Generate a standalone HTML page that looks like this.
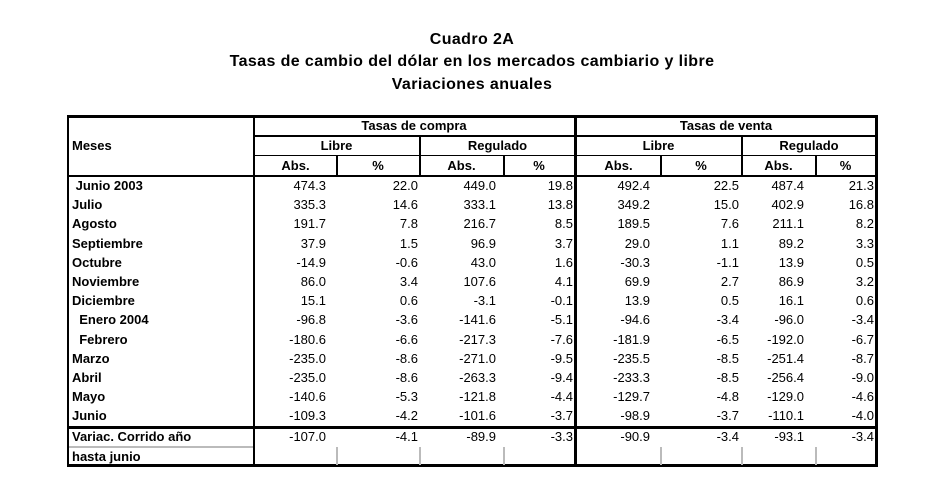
<html><head><style>
body{margin:0;background:#fff;width:944px;height:499px;overflow:hidden;font-family:"Liberation Sans",Arial,sans-serif;position:relative}
.t{position:absolute;left:0;width:944px;text-align:center;font-weight:bold;font-size:16px;letter-spacing:0.4px;color:#000}
.a{position:absolute;font-size:13px;white-space:nowrap;line-height:16px}
.b{font-weight:bold}
.h{position:absolute;background:#000}
.g{position:absolute;background:#bbb}
</style></head><body>
<div class="t" style="top:31px">Cuadro 2A</div>
<div class="t" style="top:53px">Tasas de cambio del dólar en los mercados cambiario y libre</div>
<div class="t" style="top:76px">Variaciones anuales</div>
<div id="tb"></div>
<script>
var o='';
function L(x,y,w,h,c){o+='<div class="'+(c||'h')+'" style="left:'+x+'px;top:'+y+'px;width:'+w+'px;height:'+h+'px"></div>';}
L(67,115,811,3);L(67,464,811,3);L(67,115,2,352);L(875,115,3,352);
L(253,115,2,62);L(574,115,3,352);
L(253,135,622,2);L(253,155,622,1);L(67,175,811,2);L(67,426,811,3);
[336,503,660,815].forEach(function(x){L(x,155,2,21);});
[419,741].forEach(function(x){L(x,135,2,41);});
L(253,177,2,290);
L(69,446,184,2,'g');
[336,419,503,660,741,815].forEach(function(x){L(x,447,2,18,'g');});
function T(x,y,s,cls,al,w){o+='<div class="a '+(cls||'')+'" style="left:'+x+'px;top:'+y+'px;'+(w?'width:'+w+'px;text-align:'+al+';':'')+'">'+s+'</div>';}
T(253,118,'Tasas de compra','b','center',322);T(576,118,'Tasas de venta','b','center',300);
T(253,138,'Libre','b','center',167);T(420,138,'Regulado','b','center',155);
T(576,138,'Libre','b','center',165);T(742,138,'Regulado','b','center',134);
T(72,138,'Meses','b');
var cx=[[255,336],[337,419],[420,503],[504,574],[577,660],[661,741],[742,815],[816,875]];
['Abs.','%','Abs.','%','Abs.','%','Abs.','%'].forEach(function(s,i){T(cx[i][0],158,s,'b','center',cx[i][1]-cx[i][0]);});
var rows=[[' Junio 2003',474.3,22.0,449.0,19.8,492.4,22.5,487.4,21.3],['Julio',335.3,14.6,333.1,13.8,349.2,15.0,402.9,16.8],['Agosto',191.7,7.8,216.7,8.5,189.5,7.6,211.1,8.2],['Septiembre',37.9,1.5,96.9,3.7,29.0,1.1,89.2,3.3],['Octubre',-14.9,-0.6,43.0,1.6,-30.3,-1.1,13.9,0.5],['Noviembre',86.0,3.4,107.6,4.1,69.9,2.7,86.9,3.2],['Diciembre',15.1,0.6,-3.1,-0.1,13.9,0.5,16.1,0.6],['  Enero 2004',-96.8,-3.6,-141.6,-5.1,-94.6,-3.4,-96.0,-3.4],['  Febrero',-180.6,-6.6,-217.3,-7.6,-181.9,-6.5,-192.0,-6.7],['Marzo',-235.0,-8.6,-271.0,-9.5,-235.5,-8.5,-251.4,-8.7],['Abril',-235.0,-8.6,-263.3,-9.4,-233.3,-8.5,-256.4,-9.0],['Mayo',-140.6,-5.3,-121.8,-4.4,-129.7,-4.8,-129.0,-4.6],['Junio',-109.3,-4.2,-101.6,-3.7,-98.9,-3.7,-110.1,-4.0],['Variac. Corrido año',-107.0,-4.1,-89.9,-3.3,-90.9,-3.4,-93.1,-3.4]];
var abs=[[256,326],[337,418],[420,496],[504,573],[577,650],[661,739],[742,804],[816,874]];
rows.forEach(function(r,i){var y=i<13?178+i*19.2:429;
T(72,y,r[0].replace(/ /g,'&nbsp;'),'b');
for(var k=1;k<9;k++){var c=abs[k-1];T(c[0],y,r[k].toFixed(1),'','right',c[1]-c[0]);}});
T(72,449,'hasta junio','b');
document.getElementById('tb').innerHTML=o;
</script>
</body></html>
